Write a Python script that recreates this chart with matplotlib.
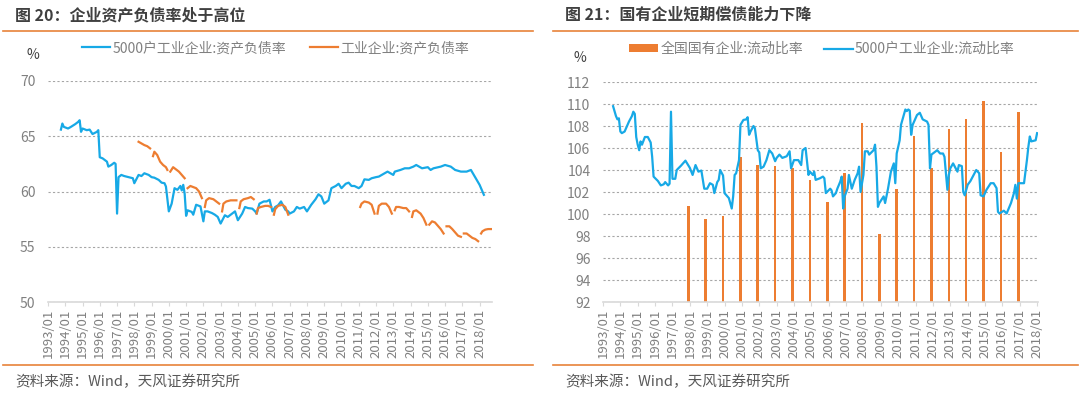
import numpy as np
import pandas as pd
import matplotlib
matplotlib.use('Agg')
import matplotlib.pyplot as plt
import matplotlib.dates as mdates
from matplotlib.lines import Line2D

plt.rcParams['font.family'] = ['Noto Sans CJK SC', 'DejaVu Sans']
plt.rcParams['axes.unicode_minus'] = False

BLUE = '#17A9E6'
ORANGE = '#ED7D31'
RULE = '#E8833A'
GREY = '#808080'
TITLE = '#404040'

# ---- 图20: 5000户工业企业 资产负债率 (%)
debt_5000_dates = [
    '1993-10', '1993-11', '1993-12', '1994-03', '1994-05', '1994-08', '1994-10', '1994-11', '1994-12',
    '1995-01', '1995-04', '1995-06', '1995-08', '1995-11', '1995-12', '1996-01', '1996-03', '1996-06',
    '1996-07', '1996-09', '1996-11', '1996-12', '1997-01', '1997-02', '1997-04', '1997-06', '1997-09',
    '1997-12', '1998-01', '1998-04', '1998-06', '1998-08', '1998-11', '1999-01', '1999-03', '1999-06',
    '1999-08', '1999-10', '1999-11', '2000-01', '2000-03', '2000-05', '2000-07', '2000-09', '2000-10',
    '2000-11', '2000-12', '2001-01', '2001-02', '2001-05', '2001-06', '2001-08', '2001-11', '2001-12',
    '2002-01', '2002-02', '2002-04', '2002-07', '2002-09', '2002-11', '2003-01', '2003-04', '2003-06',
    '2003-09', '2003-11', '2004-01', '2004-04', '2004-06', '2004-08', '2004-11', '2005-01', '2005-02',
    '2005-04', '2005-07', '2005-09', '2005-11', '2006-01', '2006-03', '2006-05', '2006-07', '2006-10',
    '2006-12', '2007-01', '2007-04', '2007-06', '2007-08', '2007-11', '2008-01', '2008-04', '2008-07',
    '2008-09', '2008-11', '2009-01', '2009-04', '2009-06', '2009-09', '2009-11', '2010-01', '2010-04',
    '2010-06', '2010-08', '2010-10', '2011-01', '2011-03', '2011-05', '2011-08', '2011-10', '2012-01',
    '2012-03', '2012-05', '2012-09', '2013-01', '2013-02', '2013-06', '2013-09', '2013-12', '2014-03',
    '2014-05', '2014-09', '2015-01', '2015-03', '2015-05', '2015-10', '2016-01', '2016-05', '2016-08',
    '2016-12', '2017-02', '2017-04', '2017-07', '2017-09', '2017-11', '2018-01', '2018-04',
]
debt_5000 = [
    65.6, 66.15, 65.85, 65.7, 65.85, 66.1, 66.3, 66.45, 65.4,
    65.7, 65.55, 65.6, 65.2, 65.4, 65.55, 63.1, 63.0, 62.7,
    62.25, 62.4, 62.6, 62.5, 58.0, 61.3, 61.5, 61.4, 61.3,
    61.2, 60.75, 61.5, 61.4, 61.65, 61.5, 61.3, 61.25, 61.05,
    60.8, 60.75, 60.45, 58.2, 58.9, 60.3, 60.15, 60.5, 60.1,
    60.6, 59.8, 57.8, 58.3, 58.15, 57.9, 58.8, 58.65, 58.0,
    57.3, 58.2, 58.2, 58.05, 57.9, 57.7, 57.1, 57.85, 57.7,
    58.0, 58.2, 57.4, 58.0, 58.6, 58.5, 58.45, 58.2, 58.0,
    58.9, 59.1, 59.1, 59.25, 58.2, 58.6, 58.75, 59.1, 58.35,
    58.2, 58.0, 58.2, 58.6, 58.45, 58.6, 58.2, 58.8, 59.3,
    59.75, 59.55, 58.9, 59.2, 60.3, 60.5, 60.7, 60.3, 60.7,
    60.8, 60.5, 60.5, 60.3, 60.5, 61.1, 61.05, 61.2, 61.3,
    61.35, 61.5, 61.8, 61.5, 61.8, 61.95, 62.1, 62.1, 62.25,
    62.4, 62.1, 62.2, 61.95, 62.1, 62.25, 62.4, 62.25, 61.95,
    61.8, 61.8, 61.8, 61.95, 61.5, 61.05, 60.6, 59.7,
]

# ---- 图20: 工业企业 资产负债率 (%) - 每年1月无数据
debt_ind_dates = [
    '1998-04', '1998-06', '1998-08', '1998-10', '1998-12',
    '1999-02', '1999-03', '1999-05', '1999-07', '1999-09', '1999-11', '1999-12',
    '2000-02', '2000-04', '2000-06', '2000-08', '2000-10', '2000-12',
    '2001-02', '2001-04', '2001-06', '2001-08', '2001-10', '2001-12',
    '2002-02', '2002-03', '2002-05', '2002-08', '2002-10', '2002-12',
    '2003-02', '2003-03', '2003-05', '2003-08', '2003-10', '2003-12',
    '2004-02', '2004-03', '2004-05', '2004-08', '2004-10', '2004-12',
    '2005-02', '2005-03', '2005-05', '2005-08', '2005-10', '2005-12',
    '2006-02', '2006-03', '2006-05', '2006-08', '2006-10', '2006-12',
    '2011-02', '2011-03', '2011-05', '2011-08', '2011-10', '2011-12',
    '2012-02', '2012-03', '2012-05', '2012-08', '2012-10', '2012-12',
    '2013-02', '2013-03', '2013-05', '2013-08', '2013-10', '2013-12',
    '2014-02', '2014-03', '2014-05', '2014-08', '2014-10', '2014-12',
    '2015-02', '2015-04', '2015-06', '2015-08', '2015-10', '2015-12',
    '2016-02', '2016-04', '2016-06', '2016-08', '2016-10', '2016-12',
    '2017-02', '2017-04', '2017-06', '2017-08', '2017-10', '2017-12',
    '2018-02', '2018-03', '2018-05', '2018-07', '2018-09',
]
debt_ind = [
    64.5, 64.35, 64.2, 64.1, 63.9,
    63.2, 63.6, 63.3, 62.7, 62.4, 62.2, 61.95,
    61.8, 62.2, 62.0, 61.8, 61.5, 61.2,
    60.3, 60.5, 60.4, 60.3, 60.0, 59.4,
    58.6, 59.2, 59.4, 59.3, 59.1, 58.9,
    58.2, 58.9, 59.1, 59.2, 59.2, 59.2,
    58.5, 59.1, 59.3, 59.4, 59.5, 59.3,
    58.0, 58.5, 58.6, 58.7, 58.7, 58.6,
    57.9, 58.4, 58.7, 58.8, 58.6, 57.9,
    58.6, 58.9, 59.1, 59.0, 58.8, 58.0,
    58.0, 58.7, 58.9, 58.9, 58.6, 58.0,
    58.3, 58.6, 58.6, 58.5, 58.5, 58.2,
    57.7, 58.2, 58.3, 58.0, 57.6, 57.0,
    57.0, 57.3, 57.2, 56.9, 56.6, 56.2,
    56.85, 56.85, 56.6, 56.3, 56.0, 55.9,
    56.2, 56.2, 56.0, 55.8, 55.7, 55.5,
    56.2, 56.4, 56.55, 56.6, 56.6,
]

# ---- 图21: 5000户工业企业 流动比率 (%)
cur_5000_dates = [
    '1993-08', '1993-10', '1993-11', '1993-12', '1994-01', '1994-02', '1994-04', '1994-06', '1994-07',
    '1994-09', '1994-10', '1994-11', '1994-12', '1995-01', '1995-02', '1995-03', '1995-04', '1995-06',
    '1995-08', '1995-10', '1995-11', '1995-12', '1996-03', '1996-05', '1996-07', '1996-08', '1996-10',
    '1996-11', '1996-12', '1997-01', '1997-03', '1997-04', '1997-07', '1997-10', '1998-01', '1998-03',
    '1998-05', '1998-07', '1998-09', '1998-11', '1999-01', '1999-03', '1999-05', '1999-06', '1999-08',
    '1999-09', '1999-10', '1999-12', '2000-01', '2000-03', '2000-04', '2000-06', '2000-07', '2000-08',
    '2000-09', '2000-11', '2000-12', '2001-02', '2001-04', '2001-05', '2001-06', '2001-07', '2001-09',
    '2001-10', '2001-12', '2002-01', '2002-02', '2002-04', '2002-06', '2002-08', '2002-10', '2002-12',
    '2003-01', '2003-03', '2003-05', '2003-08', '2003-10', '2003-11', '2004-01', '2004-04', '2004-06',
    '2004-07', '2004-09', '2004-11', '2004-12', '2005-02', '2005-03', '2005-04', '2005-07', '2005-09',
    '2005-10', '2005-11', '2006-02', '2006-03', '2006-04', '2006-06', '2006-07', '2006-09', '2006-10',
    '2006-11', '2006-12', '2007-02', '2007-03', '2007-05', '2007-07', '2007-09', '2007-10', '2007-11',
    '2008-01', '2008-02', '2008-04', '2008-05', '2008-08', '2008-09', '2008-10', '2008-11', '2008-12',
    '2009-03', '2009-04', '2009-06', '2009-08', '2009-10', '2009-11', '2009-12', '2010-02', '2010-03',
    '2010-06', '2010-07', '2010-08', '2010-09', '2010-10', '2010-11', '2011-02', '2011-04', '2011-06',
    '2011-09', '2011-10', '2011-11', '2011-12', '2012-01', '2012-04', '2012-06', '2012-08', '2012-09',
    '2012-11', '2012-12', '2013-01', '2013-03', '2013-06', '2013-07', '2013-09', '2013-10', '2013-11',
    '2014-01', '2014-03', '2014-05', '2014-07', '2014-09', '2014-10', '2014-12', '2015-02', '2015-05',
    '2015-07', '2015-09', '2015-10', '2015-11', '2016-02', '2016-04', '2016-07', '2016-09', '2016-10',
    '2016-11', '2016-12', '2017-03', '2017-04', '2017-06', '2017-07', '2017-08', '2017-09', '2017-12',
    '2018-01',
]
cur_5000 = [
    109.8, 108.9, 108.6, 108.7, 107.5, 107.35, 107.5, 108.1, 108.4,
    108.9, 109.3, 109.1, 107.0, 106.3, 105.8, 106.6, 106.3, 107.0,
    107.0, 106.5, 105.2, 103.4, 103.0, 102.6, 102.7, 102.9, 102.6,
    102.75, 109.3, 103.2, 103.2, 104.0, 104.4, 104.85, 104.2, 103.55,
    104.45, 103.85, 103.95, 102.3, 102.3, 102.8, 102.65, 101.9, 102.9,
    103.1, 104.0, 103.5, 101.9, 101.6, 101.45, 100.5, 101.6, 103.55,
    103.7, 104.9, 108.1, 108.55, 108.6, 108.8, 107.2, 107.5, 108.0,
    107.8, 105.8, 105.6, 104.15, 104.3, 104.9, 105.8, 105.5, 104.8,
    105.1, 105.4, 105.1, 105.25, 105.7, 104.15, 104.9, 104.9, 104.45,
    105.8, 106.0, 103.55, 103.85, 103.55, 103.85, 103.1, 103.25, 103.4,
    103.25, 101.9, 102.3, 102.15, 101.6, 101.9, 102.3, 102.95, 103.4,
    100.5, 101.6, 102.3, 103.55, 102.3, 103.1, 103.7, 104.3, 102.0,
    103.55, 105.7, 105.7, 105.4, 105.8, 106.3, 104.3, 100.65, 101.0,
    101.6, 101.0, 102.3, 103.85, 104.6, 102.8, 105.5, 106.7, 108.1,
    109.5, 109.35, 109.5, 109.4, 107.2, 108.1, 109.0, 109.2, 108.6,
    108.4, 108.1, 104.15, 105.4, 105.5, 105.8, 105.5, 105.5, 105.2,
    102.2, 103.55, 104.15, 104.6, 103.85, 104.45, 104.35, 102.0, 101.7,
    102.65, 103.0, 103.5, 104.0, 103.7, 101.7, 101.6, 102.2, 102.8,
    102.8, 102.35, 100.2, 100.05, 100.3, 100.05, 101.0, 101.9, 102.65,
    101.4, 102.8, 102.8, 102.8, 104.9, 106.1, 107.05, 106.6, 106.7,
    107.35,
]

# ---- 图21: 全国国有企业 流动比率 (%), 年末
soe_dates = [f'{y}-12' for y in range(1997, 2017)]
soe_current = [100.75, 99.55, 99.85, 105.2, 104.45, 104.35, 104.15, 103.1, 101.05, 103.7,
               108.3, 98.2, 102.25, 107.1, 104.15, 107.7, 108.6, 110.25, 105.6, 109.25]


def style_axis(ax, yticks, xmax):
    ax.set_xlim(pd.Timestamp('1993-01-01'), pd.Timestamp(xmax))
    ax.set_ylim(yticks[0], yticks[-1])
    ax.set_yticks(yticks)
    ax.xaxis.set_major_locator(mdates.YearLocator())
    ax.xaxis.set_major_formatter(mdates.DateFormatter('%Y/%m'))
    for s in ['left', 'right', 'top']:
        ax.spines[s].set_visible(False)
    ax.spines['bottom'].set_color('#D9D9D9')
    ax.spines['bottom'].set_linewidth(1.2)
    ax.set_axisbelow(True)
    ax.yaxis.grid(True, linestyle=(0, (2, 2)), color='#A6A6A6', linewidth=0.8)
    ax.tick_params(axis='y', length=0, pad=9, labelsize=10, labelcolor=GREY)
    ax.tick_params(axis='x', length=3, color='#D9D9D9', labelsize=9.5, labelcolor=GREY,
                   labelrotation=90, pad=2)


fig = plt.figure(figsize=(10.8, 3.93), dpi=100)

# left panel
ax1 = fig.add_axes([48 / 1080, 1 - 302 / 393, 444 / 1080, 221 / 393])
ax1.plot(pd.to_datetime(debt_5000_dates), debt_5000, color=BLUE, lw=1.6,
         label='5000户工业企业:资产负债率')
ind = pd.Series(debt_ind, index=pd.to_datetime(debt_ind_dates))
for i, (yr, seg) in enumerate(ind.groupby(ind.index.year)):
    ax1.plot(seg.index, seg.values, color=ORANGE, lw=1.6,
             label='工业企业:资产负债率' if i == 0 else None)
style_axis(ax1, list(range(50, 71, 5)), '2018-09-20')
ax1.legend(loc='center left', bbox_to_anchor=(82 / 1080, 1 - 48 / 393),
           bbox_transform=fig.transFigure, ncol=2, frameon=False, fontsize=10,
           handlelength=2.0, handletextpad=0.2, columnspacing=1.7, borderpad=0,
           borderaxespad=0, labelcolor=GREY)

# right panel
ax2 = fig.add_axes([603 / 1080, 1 - 302 / 393, 435 / 1080, 220 / 393])
bars = ax2.bar(pd.to_datetime(soe_dates), np.array(soe_current) - 92, bottom=92, width=55,
               color=ORANGE, label='全国国有企业:流动比率')
line, = ax2.plot(pd.to_datetime(cur_5000_dates), cur_5000, color=BLUE, lw=1.6,
                 label='5000户工业企业:流动比率')
style_axis(ax2, list(range(92, 113, 2)), '2018-01-20')
ax2.legend(handles=[bars, line], loc='center left', bbox_to_anchor=(629 / 1080, 1 - 49 / 393),
           bbox_transform=fig.transFigure, ncol=2, frameon=False, fontsize=10,
           handlelength=2.1, handleheight=0.5, handletextpad=0.15, columnspacing=1.5,
           borderpad=0, borderaxespad=0, labelcolor=GREY)

# unit labels
fig.text(33 / 1080, 1 - 55 / 393, '%', fontsize=10, color='#404040', ha='center', va='center')
fig.text(580 / 1080, 1 - 58 / 393, '%', fontsize=10, color='#404040', ha='center', va='center')

# titles, rules and source notes
for x0, x1, tx, title in [(3, 533, 15, '图 20：企业资产负债率处于高位'),
                          (553, 1078, 565, '图 21：国有企业短期偿债能力下降')]:
    fig.text(tx / 1080, 1 - 15 / 393, title, fontsize=11.5, fontweight='bold',
             color=TITLE, ha='left', va='center')
    for yy in (31, 365):
        fig.add_artist(Line2D([x0 / 1080, x1 / 1080], [1 - yy / 393, 1 - yy / 393],
                              color=RULE, lw=1.2, transform=fig.transFigure))
    fig.text(tx / 1080, 1 - 382 / 393, '资料来源：Wind，天风证券研究所', fontsize=10.5,
             color='#595959', ha='left', va='center')

fig.savefig('out.png', dpi=100)
